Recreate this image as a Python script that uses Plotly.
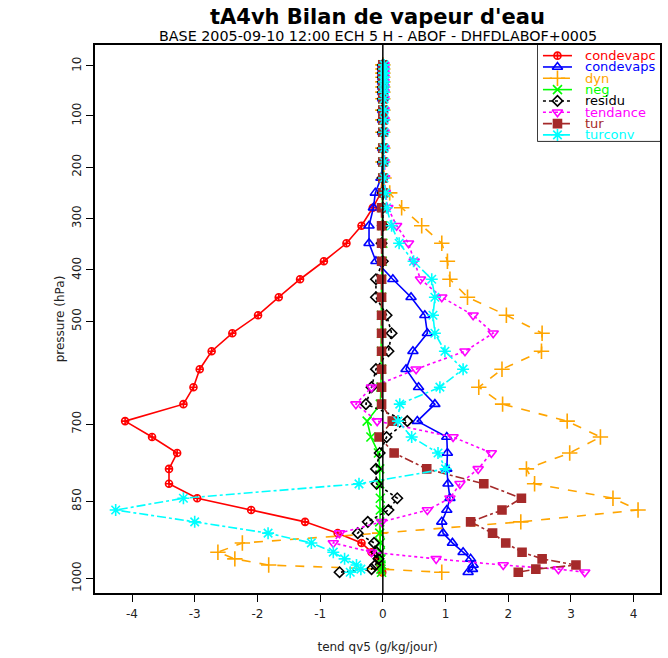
import plotly.graph_objects as go

levels = [1, 9, 17, 25, 34, 44, 54, 67, 89, 108, 132, 163, 190, 221, 250, 279, 314, 348, 383, 418,
          453, 488, 523, 558, 593, 628, 661, 694, 725, 756, 787, 816, 844, 867, 890, 912, 931, 949,
          962, 974, 982, 988]

condevapc = [0, 0, 0, 0, 0, 0, 0, 0, 0, 0, 0, 0, 0, -0.01, -0.03, -0.16, -0.34, -0.58, -0.94, -1.32,
             -1.66, -1.99, -2.40, -2.73, -2.92, -3.02, -3.18, -4.11, -3.68, -3.28, -3.41, -3.41, -2.96,
             -2.10, -1.24, -0.72, -0.34, -0.18, -0.08, -0.04, -0.02, -0.01]
condevaps = [0, 0, 0, 0, 0, 0, 0, 0, 0, 0, 0, 0, 0, -0.03, -0.12, -0.15, -0.22, -0.22, -0.11, 0.16,
             0.45, 0.67, 0.71, 0.48, 0.37, 0.57, 0.83, 0.55, 1.02, 1.03, 1.02, 1.04, 1.07, 1.02, 0.94,
             0.96, 1.11, 1.28, 1.40, 1.44, 1.43, 1.36]
dyn = [0, 0, 0, 0, 0, 0, 0, 0, 0, 0, 0, 0, 0, 0.02, 0.11, 0.30, 0.62, 0.94, 1.03, 1.07, 1.35, 1.97,
       2.54, 2.53, 1.90, 1.53, 1.91, 2.94, 3.47, 2.98, 2.29, 2.42, 3.67, 4.07, 2.20, -0.05, -2.24,
       -2.63, -2.36, -1.82, -0.02, 0.94]
neg = [0, 0, 0, 0, 0, 0, 0, 0, 0, 0, 0, 0, 0, 0, 0, 0, 0, 0, -0.01, -0.02, -0.02, -0.02, -0.02,
       -0.02, -0.02, -0.03, -0.04, -0.25, -0.19, -0.07, -0.05, -0.05, -0.04, -0.04, -0.05, -0.05,
       -0.04, -0.04, -0.03, -0.03, -0.03, -0.02]
residu = [0, 0, 0, 0, 0, 0, 0, 0, 0, 0, 0, 0, 0, 0, 0, 0, 0, -0.02, 0, -0.11, -0.11, 0.06, 0.14,
          0.09, -0.11, -0.18, -0.27, 0.39, 0.06, -0.05, -0.11, -0.10, 0.23, 0.09, -0.24, -0.40,
          -0.14, -0.10, -0.07, -0.12, -0.18, -0.69]
tendance = [0.02, 0.02, 0.02, 0.02, 0.02, 0.02, 0.02, 0.02, 0.02, 0.02, 0.02, 0.02, 0.02, 0.03,
            0.04, 0.08, 0.22, 0.41, 0.50, 0.60, 0.94, 1.44, 1.76, 1.31, 0.53, -0.18, -0.43, -0.09,
            1.12, 1.73, 1.52, 1.23, 1.07, 0.71, -0.02, -0.69, -0.79, -0.18, 0.85, 1.92, 2.80, 3.22]
tur = [0, 0, 0, 0, 0, 0, 0, 0, 0, 0, 0, 0, 0, 0, 0, -0.02, -0.02, -0.02, -0.02, -0.02, -0.02,
       -0.02, -0.02, -0.02, -0.02, -0.02, -0.02, 0.15, -0.06, 0.18, 0.70, 1.61, 2.21, 1.90, 1.40,
       1.75, 1.96, 2.22, 2.54, 3.08, 2.44, 2.16]
turconv = [0.02, 0.02, 0.02, 0.02, 0.02, 0.02, 0.02, 0.02, 0.02, 0.02, 0.02, 0.02, 0.02, 0.02,
           0.04, 0.06, 0.14, 0.26, 0.49, 0.78, 0.83, 0.80, 0.83, 0.99, 1.28, 0.91, 0.27, 0.24, 0.46,
           0.88, 1.00, -0.38, -3.18, -4.26, -3.00, -1.83, -1.14, -0.79, -0.61, -0.42, -0.35, -0.52]

series_names = ["condevapc", "condevaps", "dyn", "neg", "residu", "tendance", "tur", "turconv"]
series_values = [condevapc, condevaps, dyn, neg, residu, tendance, tur, turconv]

x_tick_vals = [-4, -3, -2, -1, 0, 1, 2, 3, 4]
x_tick_text = ["-4", "-3", "-2", "-1", "0", "1", "2", "3", "4"]
y_tick_vals = [3, 100, 200, 300, 400, 500, 700, 850, 1000]
y_tick_text = ["10", "100", "200", "300", "400", "500", "700", "850", "1000"]

title_text = "tA4vh Bilan de vapeur d'eau"
subtitle_text = "BASE 2005-09-10 12:00 ECH 5 H - ABOF - DHFDLABOF+0005"
x_title = "tend qv5 (g/kg/jour)"
y_title = "pressure (hPa)"

# styles
colors = ["#ff0000", "#0000ff", "#ffa500", "#00ff00", "#000000", "#ff00ff", "#a52a2a", "#00ffff"]
symbols = ["circle-cross-open", "triangle-up-open", "cross-thin-open", "x-thin-open",
           "diamond-open", "triangle-down-open", "square", "asterisk-open"]
sizes = [7, 9, 11, 9, 8, 9, 8, 10]
dashes = ["solid", "solid", "dash", "solid", "dot", "dot", "dashdot", "dashdot"]

FONT = "DejaVu Sans"

fig = go.Figure()
for name, vals, c, s, sz, d in zip(series_names, series_values, colors, symbols, sizes, dashes):
    fig.add_trace(go.Scatter(
        x=vals, y=levels, mode="lines+markers", name=name, showlegend=False,
        line=dict(color=c, width=1.6, dash=d),
        marker=dict(symbol=s, size=sz, color=c, line=dict(color=c, width=1.6)),
    ))

# manual legend drawn on a small auxiliary axis pair
for i, (name, c, s, sz, d) in enumerate(zip(series_names, colors, symbols, sizes, dashes)):
    fig.add_trace(go.Scatter(x=[5, 34], y=[i, i], mode="lines", xaxis="x2", yaxis="y2",
                             showlegend=False, hoverinfo="skip",
                             line=dict(color=c, width=1.6, dash=d)))
    fig.add_trace(go.Scatter(x=[19.5], y=[i], mode="markers", xaxis="x2", yaxis="y2",
                             showlegend=False, hoverinfo="skip",
                             marker=dict(symbol=s, size=sz, color=c, line=dict(color=c, width=1.6))))
    fig.add_annotation(x=46, y=i, xref="x2", yref="y2", text=name, showarrow=False,
                       xanchor="left", yanchor="middle", borderpad=0,
                       font=dict(family=FONT, size=13, color=c))

fig.add_shape(type="rect", xref="paper", yref="paper", x0=0.784, x1=1.0, y0=0.825, y1=1.0,
              line=dict(color="black", width=1.5), fillcolor="white", layer="below")
fig.add_shape(type="line", xref="x", yref="paper", x0=0, x1=0, y0=0, y1=1,
              line=dict(color="black", width=1.5), layer="above")

fig.add_annotation(x=0.5, y=1.0511, xref="paper", yref="paper", text="<b>" + title_text + "</b>",
                   showarrow=False, xanchor="center", yanchor="middle",
                   font=dict(family=FONT, size=21, color="black"))
fig.add_annotation(x=0.5, y=1.0164, xref="paper", yref="paper", text=subtitle_text,
                   showarrow=False, xanchor="center", yanchor="middle",
                   font=dict(family=FONT, size=14.3, color="black"))

fig.update_layout(
    width=668, height=658,
    margin=dict(l=95, r=8, t=45, b=65, autoexpand=False),
    paper_bgcolor="white", plot_bgcolor="white",
    font=dict(family=FONT, size=12, color="#222"),
    xaxis=dict(range=[-4.59, 4.42], tickvals=x_tick_vals, ticktext=x_tick_text,
               ticks="outside", ticklen=7, tickcolor="black", showline=True, mirror=True,
               linecolor="black", linewidth=1.5, showgrid=False, zeroline=False,
               automargin=False, ticklabelstandoff=2,
               title=dict(text=x_title, font=dict(size=12, color="#222"), standoff=22)),
    yaxis=dict(range=[1028.4, -37.7], tickvals=y_tick_vals, ticktext=y_tick_text, tickangle=-90,
               ticks="outside", ticklen=7, tickcolor="black", showline=True, mirror=True,
               linecolor="black", linewidth=1.5, showgrid=False, zeroline=False,
               automargin=False,
               title=dict(text=y_title, font=dict(size=12, color="#222"), standoff=3)),
    xaxis2=dict(domain=[0.784, 1.0], range=[0, 122], anchor="y2", visible=False, fixedrange=True),
    yaxis2=dict(domain=[0.825, 1.0], range=[7.53, -0.94], anchor="x2", visible=False, fixedrange=True),
)

# remove the page's default body margin so the figure fills the window exactly
fig.write_html("out.html", config={"displayModeBar": False},
               post_script="document.body.style.margin='0';")
